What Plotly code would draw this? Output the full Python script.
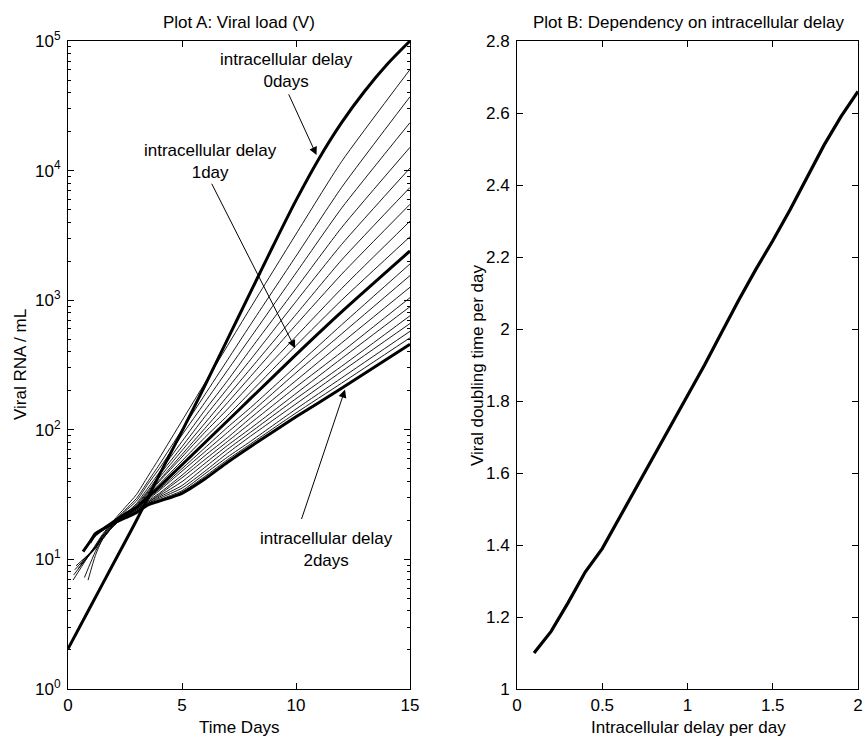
import plotly.graph_objects as go

# ---------------- Plot A data (log10 of viral RNA / mL) -------------
time_days_d0 = [0, 1, 2, 3, 4, 5, 6, 7, 8, 9, 10, 11, 12, 13, 14, 15]
log10_load_d0 = [0.31, 0.64, 0.97, 1.30, 1.65, 1.99, 2.34, 2.70, 3.06, 3.42, 3.77, 4.09, 4.37, 4.61, 4.82, 5.00]

delays = [0.1, 0.2, 0.3, 0.4, 0.5, 0.6, 0.7, 0.8, 0.9, 1.0,
          1.1, 1.2, 1.3, 1.4, 1.5, 1.6, 1.7, 1.8, 1.9, 2.0]
start_time = [0.22, 0.25, 0.30, 0.35, 0.45, 0.55, 0.62, 0.72, 0.88, 0.66,
              0.69, 0.72, 0.75, 0.78, 0.81, 0.84, 0.87, 0.90, 0.93, 0.96]
start_log10 = [0.84, 0.88, 0.92, 0.95, 0.93, 0.96, 0.99, 0.86, 0.84, 1.06,
               1.07, 1.07, 1.08, 1.09, 1.10, 1.10, 1.11, 1.12, 1.12, 1.13]

time_grid = [1.2, 1.5, 2, 2.5, 3, 3.5, 4, 5, 6, 7, 8, 10, 12, 15]
log10_d01 = [1.11, 1.19, 1.30, 1.40, 1.50, 1.64, 1.78, 2.07, 2.36, 2.65, 2.94, 3.51, 4.07, 4.78]
log10_d02 = [1.10, 1.18, 1.29, 1.38, 1.47, 1.60, 1.73, 2.00, 2.27, 2.54, 2.81, 3.34, 3.87, 4.57]
log10_d03 = [1.10, 1.18, 1.28, 1.37, 1.45, 1.58, 1.70, 1.96, 2.21, 2.46, 2.71, 3.21, 3.71, 4.37]
log10_d04 = [1.09, 1.17, 1.27, 1.35, 1.43, 1.55, 1.67, 1.91, 2.15, 2.38, 2.62, 3.09, 3.56, 4.18]
log10_d05 = [1.09, 1.17, 1.27, 1.34, 1.42, 1.53, 1.65, 1.87, 2.10, 2.32, 2.54, 2.99, 3.43, 4.02]
log10_d06 = [1.09, 1.16, 1.26, 1.33, 1.41, 1.52, 1.63, 1.84, 2.05, 2.26, 2.47, 2.89, 3.31, 3.87]
log10_d07 = [1.08, 1.16, 1.26, 1.33, 1.40, 1.51, 1.61, 1.81, 2.01, 2.21, 2.41, 2.81, 3.20, 3.74]
log10_d08 = [1.06, 1.15, 1.26, 1.33, 1.40, 1.50, 1.60, 1.79, 1.98, 2.16, 2.35, 2.72, 3.09, 3.61]
log10_d09 = [1.03, 1.15, 1.26, 1.33, 1.40, 1.49, 1.58, 1.76, 1.94, 2.11, 2.29, 2.65, 3.00, 3.49]
log10_d10 = [1.19, 1.23, 1.29, 1.35, 1.40, 1.48, 1.56, 1.73, 1.90, 2.07, 2.24, 2.58, 2.91, 3.38]
log10_d11 = [1.19, 1.23, 1.29, 1.35, 1.40, 1.47, 1.54, 1.70, 1.86, 2.02, 2.17, 2.49, 2.81, 3.28]
log10_d12 = [1.19, 1.23, 1.29, 1.35, 1.40, 1.46, 1.53, 1.68, 1.83, 1.98, 2.13, 2.44, 2.74, 3.19]
log10_d13 = [1.19, 1.23, 1.29, 1.34, 1.39, 1.45, 1.51, 1.65, 1.80, 1.94, 2.09, 2.38, 2.67, 3.10]
log10_d14 = [1.19, 1.23, 1.29, 1.34, 1.39, 1.44, 1.50, 1.63, 1.77, 1.91, 2.05, 2.33, 2.60, 3.02]
log10_d15 = [1.19, 1.23, 1.29, 1.34, 1.38, 1.44, 1.49, 1.60, 1.74, 1.88, 2.01, 2.28, 2.55, 2.95]
log10_d16 = [1.20, 1.23, 1.29, 1.33, 1.38, 1.43, 1.48, 1.57, 1.71, 1.85, 1.98, 2.24, 2.49, 2.88]
log10_d17 = [1.20, 1.23, 1.29, 1.33, 1.37, 1.43, 1.47, 1.55, 1.68, 1.82, 1.95, 2.20, 2.45, 2.82]
log10_d18 = [1.20, 1.23, 1.28, 1.33, 1.37, 1.42, 1.46, 1.53, 1.66, 1.79, 1.91, 2.16, 2.40, 2.76]
log10_d19 = [1.20, 1.23, 1.28, 1.32, 1.36, 1.42, 1.45, 1.52, 1.64, 1.77, 1.89, 2.13, 2.36, 2.71]
log10_d20 = [1.20, 1.23, 1.28, 1.32, 1.36, 1.42, 1.45, 1.51, 1.62, 1.75, 1.87, 2.10, 2.32, 2.66]

curves = [log10_d01, log10_d02, log10_d03, log10_d04, log10_d05, log10_d06, log10_d07,
          log10_d08, log10_d09, log10_d10, log10_d11, log10_d12, log10_d13, log10_d14,
          log10_d15, log10_d16, log10_d17, log10_d18, log10_d19, log10_d20]

# ---------------- Plot B data ----------------
delay_b = [0.1, 0.2, 0.3, 0.4, 0.5, 0.6, 0.7, 0.8, 0.9, 1.0,
           1.1, 1.2, 1.3, 1.4, 1.5, 1.6, 1.7, 1.8, 1.9, 2.0]
doubling_time = [1.10, 1.16, 1.24, 1.325, 1.39, 1.475, 1.56, 1.645, 1.73, 1.815,
                 1.90, 1.99, 2.08, 2.165, 2.245, 2.33, 2.42, 2.51, 2.59, 2.66]

FONT = "Liberation Sans, Arial, Helvetica, sans-serif"
FS = 17
W, H = 866, 738
SMOOTH = 0.55

fig = go.Figure()

thick_idx = {9, 19}
for i, (d, lv) in enumerate(zip(delays, curves)):
    if i in thick_idx:
        continue
    xs = [start_time[i]] + time_grid
    ys = [10 ** v for v in [start_log10[i]] + lv]
    fig.add_trace(go.Scatter(x=xs, y=ys, mode="lines", xaxis="x", yaxis="y",
                             line=dict(color="black", width=0.9, shape="spline", smoothing=SMOOTH),
                             showlegend=False, hoverinfo="skip"))
for i in sorted(thick_idx):
    xs = [start_time[i]] + time_grid
    ys = [10 ** v for v in [start_log10[i]] + curves[i]]
    fig.add_trace(go.Scatter(x=xs, y=ys, mode="lines", xaxis="x", yaxis="y",
                             line=dict(color="black", width=3, shape="spline", smoothing=SMOOTH),
                             showlegend=False, hoverinfo="skip"))
fig.add_trace(go.Scatter(x=time_days_d0, y=[10 ** v for v in log10_load_d0], mode="lines",
                         xaxis="x", yaxis="y",
                         line=dict(color="black", width=3, shape="spline", smoothing=0.8),
                         showlegend=False, hoverinfo="skip"))

fig.add_trace(go.Scatter(x=delay_b, y=doubling_time, mode="lines", xaxis="x2", yaxis="y2",
                         line=dict(color="black", width=3.2), showlegend=False, hoverinfo="skip"))

# ---------------- axes ----------------
def px_x(p):
    return p / W

def px_y(p):
    return (H - p) / H

dom_y = [px_y(689), px_y(41)]
axis_common = dict(showline=True, linecolor="black", linewidth=1, mirror="ticks",
                   ticks="inside", ticklen=6, tickcolor="black", tickwidth=1,
                   showgrid=False, zeroline=False, automargin=False,
                   tickfont=dict(family=FONT, size=FS, color="black"))

minor_vals = [m * 10 ** e for e in range(0, 5) for m in range(2, 10)]

fig.update_layout(
    width=W, height=H, autosize=False,
    margin=dict(l=0, r=0, t=0, b=0, pad=0),
    paper_bgcolor="white", plot_bgcolor="white",
    font=dict(family=FONT, size=FS, color="black"),
    xaxis=dict(domain=[px_x(68), px_x(410)], range=[0, 15], anchor="y",
               tickmode="array", tickvals=[0, 5, 10, 15], ticklabelstandoff=1, **axis_common),
    yaxis=dict(domain=dom_y, type="log", range=[0, 5], anchor="x",
               tickmode="array", tickvals=[1, 10, 100, 1000, 10000, 100000],
               ticktext=["10<sup>0</sup>", "10<sup>1</sup>", "10<sup>2</sup>",
                         "10<sup>3</sup>", "10<sup>4</sup>", "10<sup>5</sup>"],
               minor=dict(ticks="inside", ticklen=3, tickcolor="black", tickwidth=1,
                          tickmode="array", tickvals=minor_vals, showgrid=False),
               ticklabelstandoff=3, **axis_common),
    xaxis2=dict(domain=[px_x(517), px_x(858)], range=[0, 2], anchor="y2",
                tickmode="linear", tick0=0, dtick=0.5, ticklabelstandoff=1, **axis_common),
    yaxis2=dict(domain=dom_y, range=[1, 2.8], anchor="x2",
                tickmode="linear", tick0=1, dtick=0.2, ticklabelstandoff=3, **axis_common),
)

txt = dict(family=FONT, size=FS, color="black")
ann = []
ann.append(dict(text="Plot A: Viral load (V)", x=px_x(239), y=px_y(22), xref="paper", yref="paper",
                showarrow=False, xanchor="center", yanchor="middle", font=txt))
ann.append(dict(text="Plot B: Dependency on intracellular delay", x=px_x(688), y=px_y(22),
                xref="paper", yref="paper", showarrow=False, xanchor="center", yanchor="middle", font=txt))
ann.append(dict(text="Time Days", x=px_x(239), y=px_y(727), xref="paper", yref="paper",
                showarrow=False, xanchor="center", yanchor="middle", font=txt))
ann.append(dict(text="Intracellular delay per day", x=px_x(688), y=px_y(727), xref="paper", yref="paper",
                showarrow=False, xanchor="center", yanchor="middle", font=txt))
ann.append(dict(text="Viral RNA / mL", x=px_x(20), y=px_y(365), xref="paper", yref="paper",
                showarrow=False, xanchor="center", yanchor="middle", textangle=-90, font=txt))
ann.append(dict(text="Viral doubling time per day", x=px_x(477), y=px_y(365), xref="paper", yref="paper",
                showarrow=False, xanchor="center", yanchor="middle", textangle=-90, font=txt))

ann.append(dict(text="intracellular delay<br>0days", x=9.6, y=4.77, xref="x", yref="y",
                showarrow=False, xanchor="center", yanchor="middle", font=txt))
ann.append(dict(text="intracellular delay<br>1day", x=6.27, y=4.07, xref="x", yref="y",
                showarrow=False, xanchor="center", yanchor="middle", font=txt))
ann.append(dict(text="intracellular delay<br>2days", x=11.32, y=1.08, xref="x", yref="y",
                showarrow=False, xanchor="center", yanchor="middle", font=txt))

arrow = dict(showarrow=True, arrowhead=2, arrowsize=1.6, arrowwidth=1, arrowcolor="black",
             xref="x", yref="y", axref="x", ayref="y", text="", standoff=0, startstandoff=0)
ann.append(dict(x=10.9, y=4.12, ax=9.65, ay=4.60, **arrow))
ann.append(dict(x=9.96, y=2.63, ax=6.27, ay=3.91, **arrow))
ann.append(dict(x=12.15, y=2.31, ax=10.22, ay=1.30, **arrow))

fig.update_layout(annotations=ann)

fig.write_html("out.html")
